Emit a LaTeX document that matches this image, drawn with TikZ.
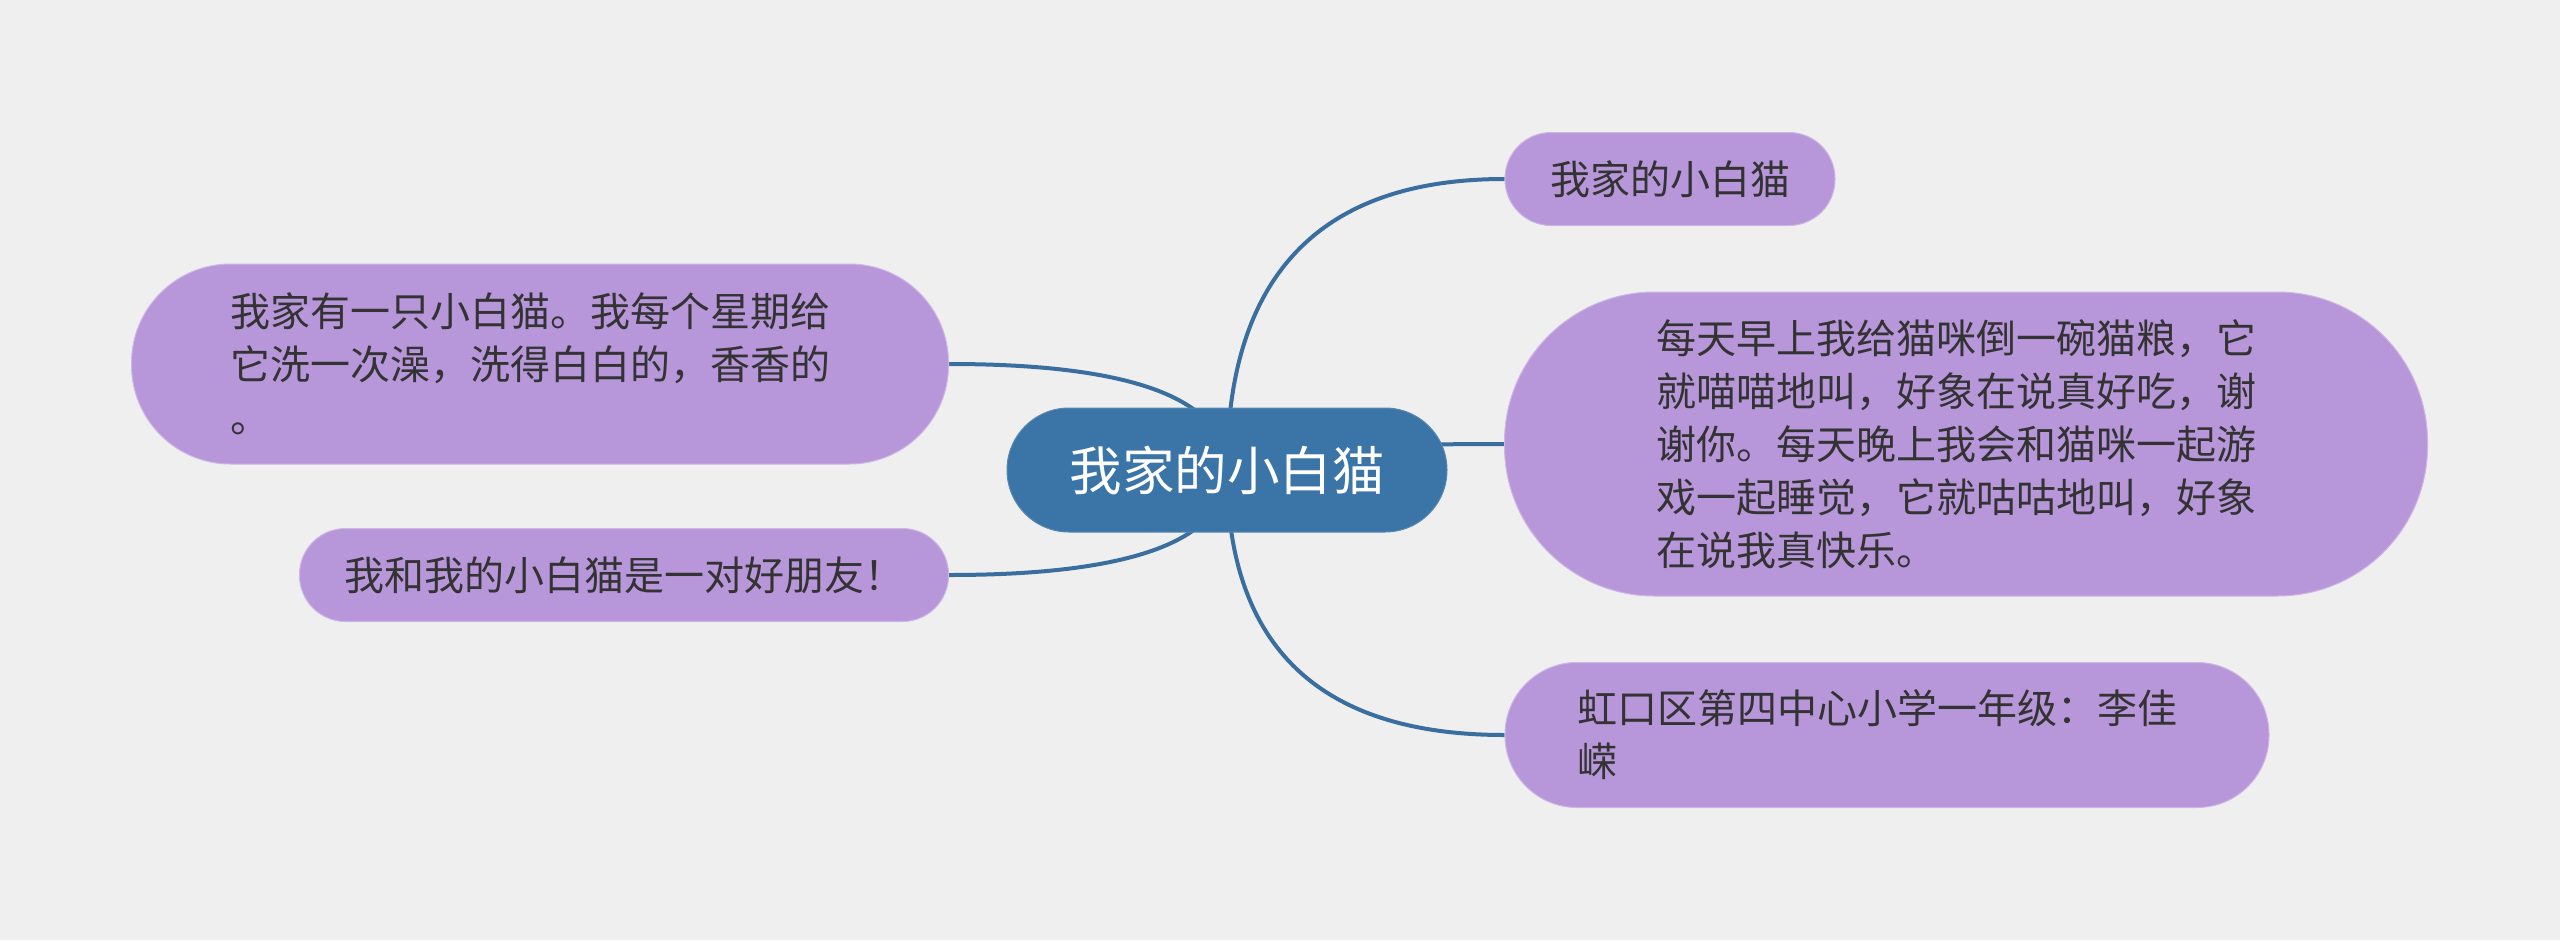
\documentclass[tikz,border=0pt]{standalone}
\usepackage{fontspec}
\setmainfont{Noto Sans CJK SC}
\usetikzlibrary{calc}
\definecolor{bgc}{HTML}{EFEFEF}
\definecolor{rootc}{HTML}{3B74A6}
\definecolor{leafc}{HTML}{B797DA}
\definecolor{linkc}{HTML}{3A6E9E}
\definecolor{inkc}{HTML}{333333}
\pgfdeclarelayer{back}
\pgfsetlayers{back,main}
\begin{document}
\begin{tikzpicture}[x=1pt,y=-1pt,
  rootbox/.style={fill=rootc, draw=rootc!85!white, line width=1pt, rounded corners=62pt,
    minimum width=440pt, minimum height=124pt, text=white,
    font=\fontsize{52.5}{60}\selectfont, inner sep=0pt},
  leafbox/.style={fill=leafc, draw=leafc!70!white, line width=1pt, text=inkc,
    font=\fontsize{40}{53}\selectfont, align=left, inner sep=0pt},
  linkline/.style={draw=linkc, line width=4pt}]
\useasboundingbox (0,0) rectangle (2560,940);

\node[rootbox] (c) at (1227,470) {我家的小白猫};

\node[leafbox, minimum width=330pt, minimum height=93pt, rounded corners=46pt] (r1) at (1670,179) {我家的小白猫};
\node[leafbox, text width=620pt, minimum width=923pt, minimum height=304pt, rounded corners=150pt] (r2) at (1966,444)
  {每天早上我给猫咪倒一碗猫粮，它\\就喵喵地叫，好象在说真好吃，谢\\谢你。每天晚上我会和猫咪一起游\\戏一起睡觉，它就咕咕地叫，好象\\在说我真快乐。};
\node[leafbox, text width=620pt, minimum width=764pt, minimum height=145pt, rounded corners=72pt] (r3) at (1887,735)
  {虹口区第四中心小学一年级：李佳\\嵘};
\node[leafbox, text width=620pt, minimum width=817pt, minimum height=200pt, rounded corners=99pt] (l1) at (540,364)
  {我家有一只小白猫。我每个星期给\\它洗一次澡，洗得白白的，香香的\\。};
\node[leafbox, minimum width=649pt, minimum height=93pt, rounded corners=46pt] (l2) at (624,575)
  {我和我的小白猫是一对好朋友！};

\begin{pgfonlayer}{back}
\fill[bgc] (0,0) rectangle (2560,940);
\foreach \t/\a in {r1/west,r2/west,r3/west,l1/east,l2/east}{
  \draw[linkline] (c.center) .. controls ($(c.center)!2/3!(c.center|-\t.\a)$)
    and ($(\t.\a)!2/3!(c.center|-\t.\a)$) .. (\t.\a);
}
\end{pgfonlayer}
\end{tikzpicture}
\end{document}
